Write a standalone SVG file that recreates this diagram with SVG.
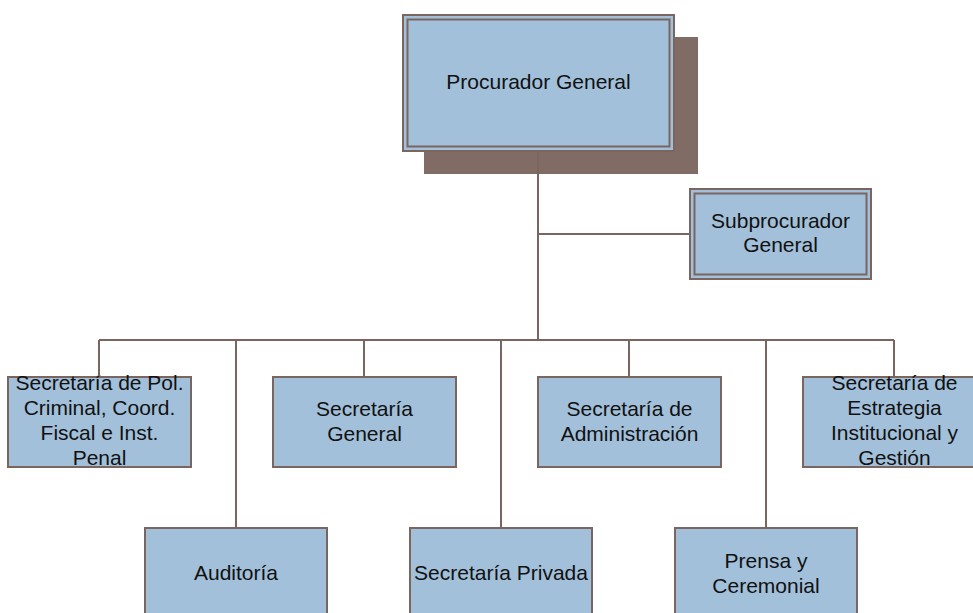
<svg xmlns="http://www.w3.org/2000/svg" width="973" height="613" viewBox="0 0 973 613">
  <style>
    .box { fill: #a2c0da; stroke: #7b655f; stroke-width: 2; }
    .inner { fill: none; stroke: #7b655f; stroke-width: 2; }
    .shadow { fill: #806c65; }
    .wire { fill: none; stroke: #7b655f; stroke-width: 2; }
    text { font-family: "Liberation Sans", Arial, sans-serif; font-size: 21px; fill: #111; text-anchor: middle; }
  </style>
  <rect width="973" height="613" fill="#ffffff"/>

  <g id="procurador">
    <rect class="shadow" x="424" y="37" width="274" height="137"/>
    <rect class="box" x="403" y="15" width="271" height="136"/>
    <rect class="inner" x="407.5" y="19.5" width="262" height="127"/>
    <text x="538.5" y="89">Procurador General</text>
  </g>

  <g id="subprocurador">
    <rect class="box" x="690" y="189" width="181" height="90"/>
    <rect class="inner" x="694.5" y="193.5" width="172" height="81"/>
    <text x="780.5" y="228">Subprocurador</text>
    <text x="780.5" y="252">General</text>
  </g>

  <g id="sec-politica-criminal">
    <rect class="box" x="8" y="377" width="183" height="90"/>
    <text x="99.5" y="390">Secretaría de Pol.</text>
    <text x="99.5" y="415">Criminal, Coord.</text>
    <text x="99.5" y="440">Fiscal e Inst.</text>
    <text x="99.5" y="465">Penal</text>
  </g>

  <g id="sec-general">
    <rect class="box" x="273" y="377" width="183" height="90"/>
    <text x="364.5" y="416">Secretaría</text>
    <text x="364.5" y="441">General</text>
  </g>

  <g id="sec-administracion">
    <rect class="box" x="538" y="377" width="183" height="90"/>
    <text x="629.5" y="416">Secretaría de</text>
    <text x="629.5" y="441">Administración</text>
  </g>

  <g id="sec-estrategia">
    <rect class="box" x="803" y="377" width="183" height="90"/>
    <text x="894.5" y="390">Secretaría de</text>
    <text x="894.5" y="415">Estrategia</text>
    <text x="894.5" y="440">Institucional y</text>
    <text x="894.5" y="465">Gestión</text>
  </g>

  <g id="auditoria">
    <rect class="box" x="145" y="528" width="182" height="92"/>
    <text x="236" y="580">Auditoría</text>
  </g>

  <g id="sec-privada">
    <rect class="box" x="410" y="528" width="182" height="92"/>
    <text x="501" y="580">Secretaría Privada</text>
  </g>

  <g id="prensa">
    <rect class="box" x="675" y="528" width="182" height="92"/>
    <text x="766" y="568">Prensa y</text>
    <text x="766" y="593">Ceremonial</text>
  </g>

  <!-- connectors, drawn last so the trunk shows over the shadow -->
  <g id="connectors">
    <path class="wire" d="M538 152 V340"/>
    <path class="wire" d="M538 234 H689"/>
    <path class="wire" d="M99 340 H894"/>
    <path class="wire" d="M99 340 V376 M364 340 V376 M629 340 V376 M894 340 V376"/>
    <path class="wire" d="M236 340 V527 M501 340 V527 M766 340 V527"/>
  </g>
</svg>
